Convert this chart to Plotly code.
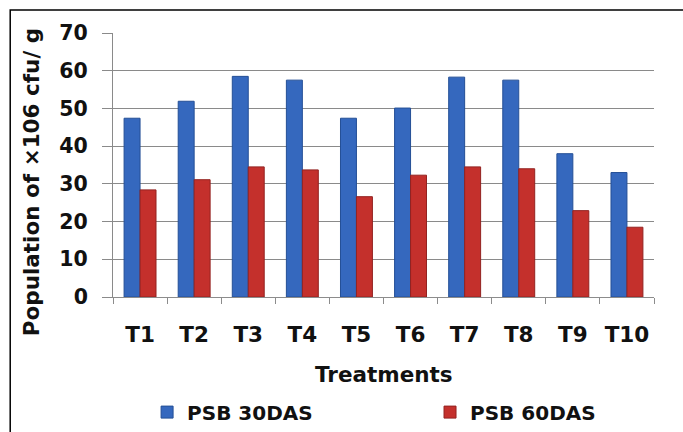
import plotly.graph_objects as go

treatments = ["T1", "T2", "T3", "T4", "T5", "T6", "T7", "T8", "T9", "T10"]
psb_30das = [47.4, 51.9, 58.5, 57.5, 47.4, 50.1, 58.3, 57.5, 38.0, 33.0]
psb_60das = [28.4, 31.1, 34.5, 33.7, 26.6, 32.3, 34.5, 34.0, 22.9, 18.5]
y_ticks = [0, 10, 20, 30, 40, 50, 60, 70]

FONT = "DejaVu Sans"

fig = go.Figure()
fig.add_trace(go.Bar(
    x=treatments, y=psb_30das, name="PSB 30DAS", legend="legend",
    marker=dict(color="#3568BE", line=dict(color="#244F96", width=1)),
))
fig.add_trace(go.Bar(
    x=treatments, y=psb_60das, name="PSB 60DAS", legend="legend2",
    marker=dict(color="#C4302C", line=dict(color="#932220", width=1)),
))

legend_font = dict(size=20, family=FONT, weight="bold", color="#111111")

fig.update_layout(
    width=683, height=432,
    margin=dict(l=113, r=29, t=33, b=135, autoexpand=False),
    paper_bgcolor="white", plot_bgcolor="white",
    barmode="group", bargap=0.41, bargroupgap=0.0,
    font=dict(family=FONT, color="#111111", weight="bold"),
    showlegend=True,
    legend=dict(
        orientation="h", x=0.063, xanchor="left", y=-0.436, yanchor="middle",
        font=legend_font, itemwidth=30, bgcolor="rgba(0,0,0,0)",
    ),
    legend2=dict(
        orientation="h", x=0.586, xanchor="left", y=-0.436, yanchor="middle",
        font=legend_font, itemwidth=30, bgcolor="rgba(0,0,0,0)",
    ),
    xaxis=dict(
        type="category", showgrid=False, showline=True, linecolor="#8c8c8c",
        linewidth=1, ticks="outside", tickson="boundaries", ticklen=6,
        tickcolor="#8c8c8c", tickfont=dict(size=21.5, family=FONT, weight="bold"),
        ticklabelstandoff=18,
    ),
    yaxis=dict(
        range=[0, 70], tickvals=y_ticks, showgrid=True, gridcolor="#8a8a8a",
        gridwidth=1, showline=True, linecolor="#8a8a8a", ticks="outside",
        ticklen=10, tickcolor="#8a8a8a",
        tickfont=dict(size=20.5, family=FONT, weight="bold"),
        ticklabelstandoff=10, zeroline=False,
    ),
    annotations=[
        dict(text="Population of ×106 cfu/ g", textangle=-90, x=-0.150, y=0.434,
             xanchor="center", yanchor="middle",
             xref="paper", yref="paper", showarrow=False,
             font=dict(size=21.5, family=FONT, weight="bold")),
        dict(text="Treatments", x=0.5, y=-0.295, xanchor="center", yanchor="middle",
             xref="paper", yref="paper",
             showarrow=False, font=dict(size=21.5, family=FONT, weight="bold")),
    ],
    shapes=[
        dict(type="rect", xref="paper", yref="paper", x0=-0.190, x1=1.07,
             y0=-0.6, y1=1.087, line=dict(color="black", width=1.5),
             fillcolor="rgba(0,0,0,0)", layer="above"),
    ],
)

fig.write_html("out.html")
